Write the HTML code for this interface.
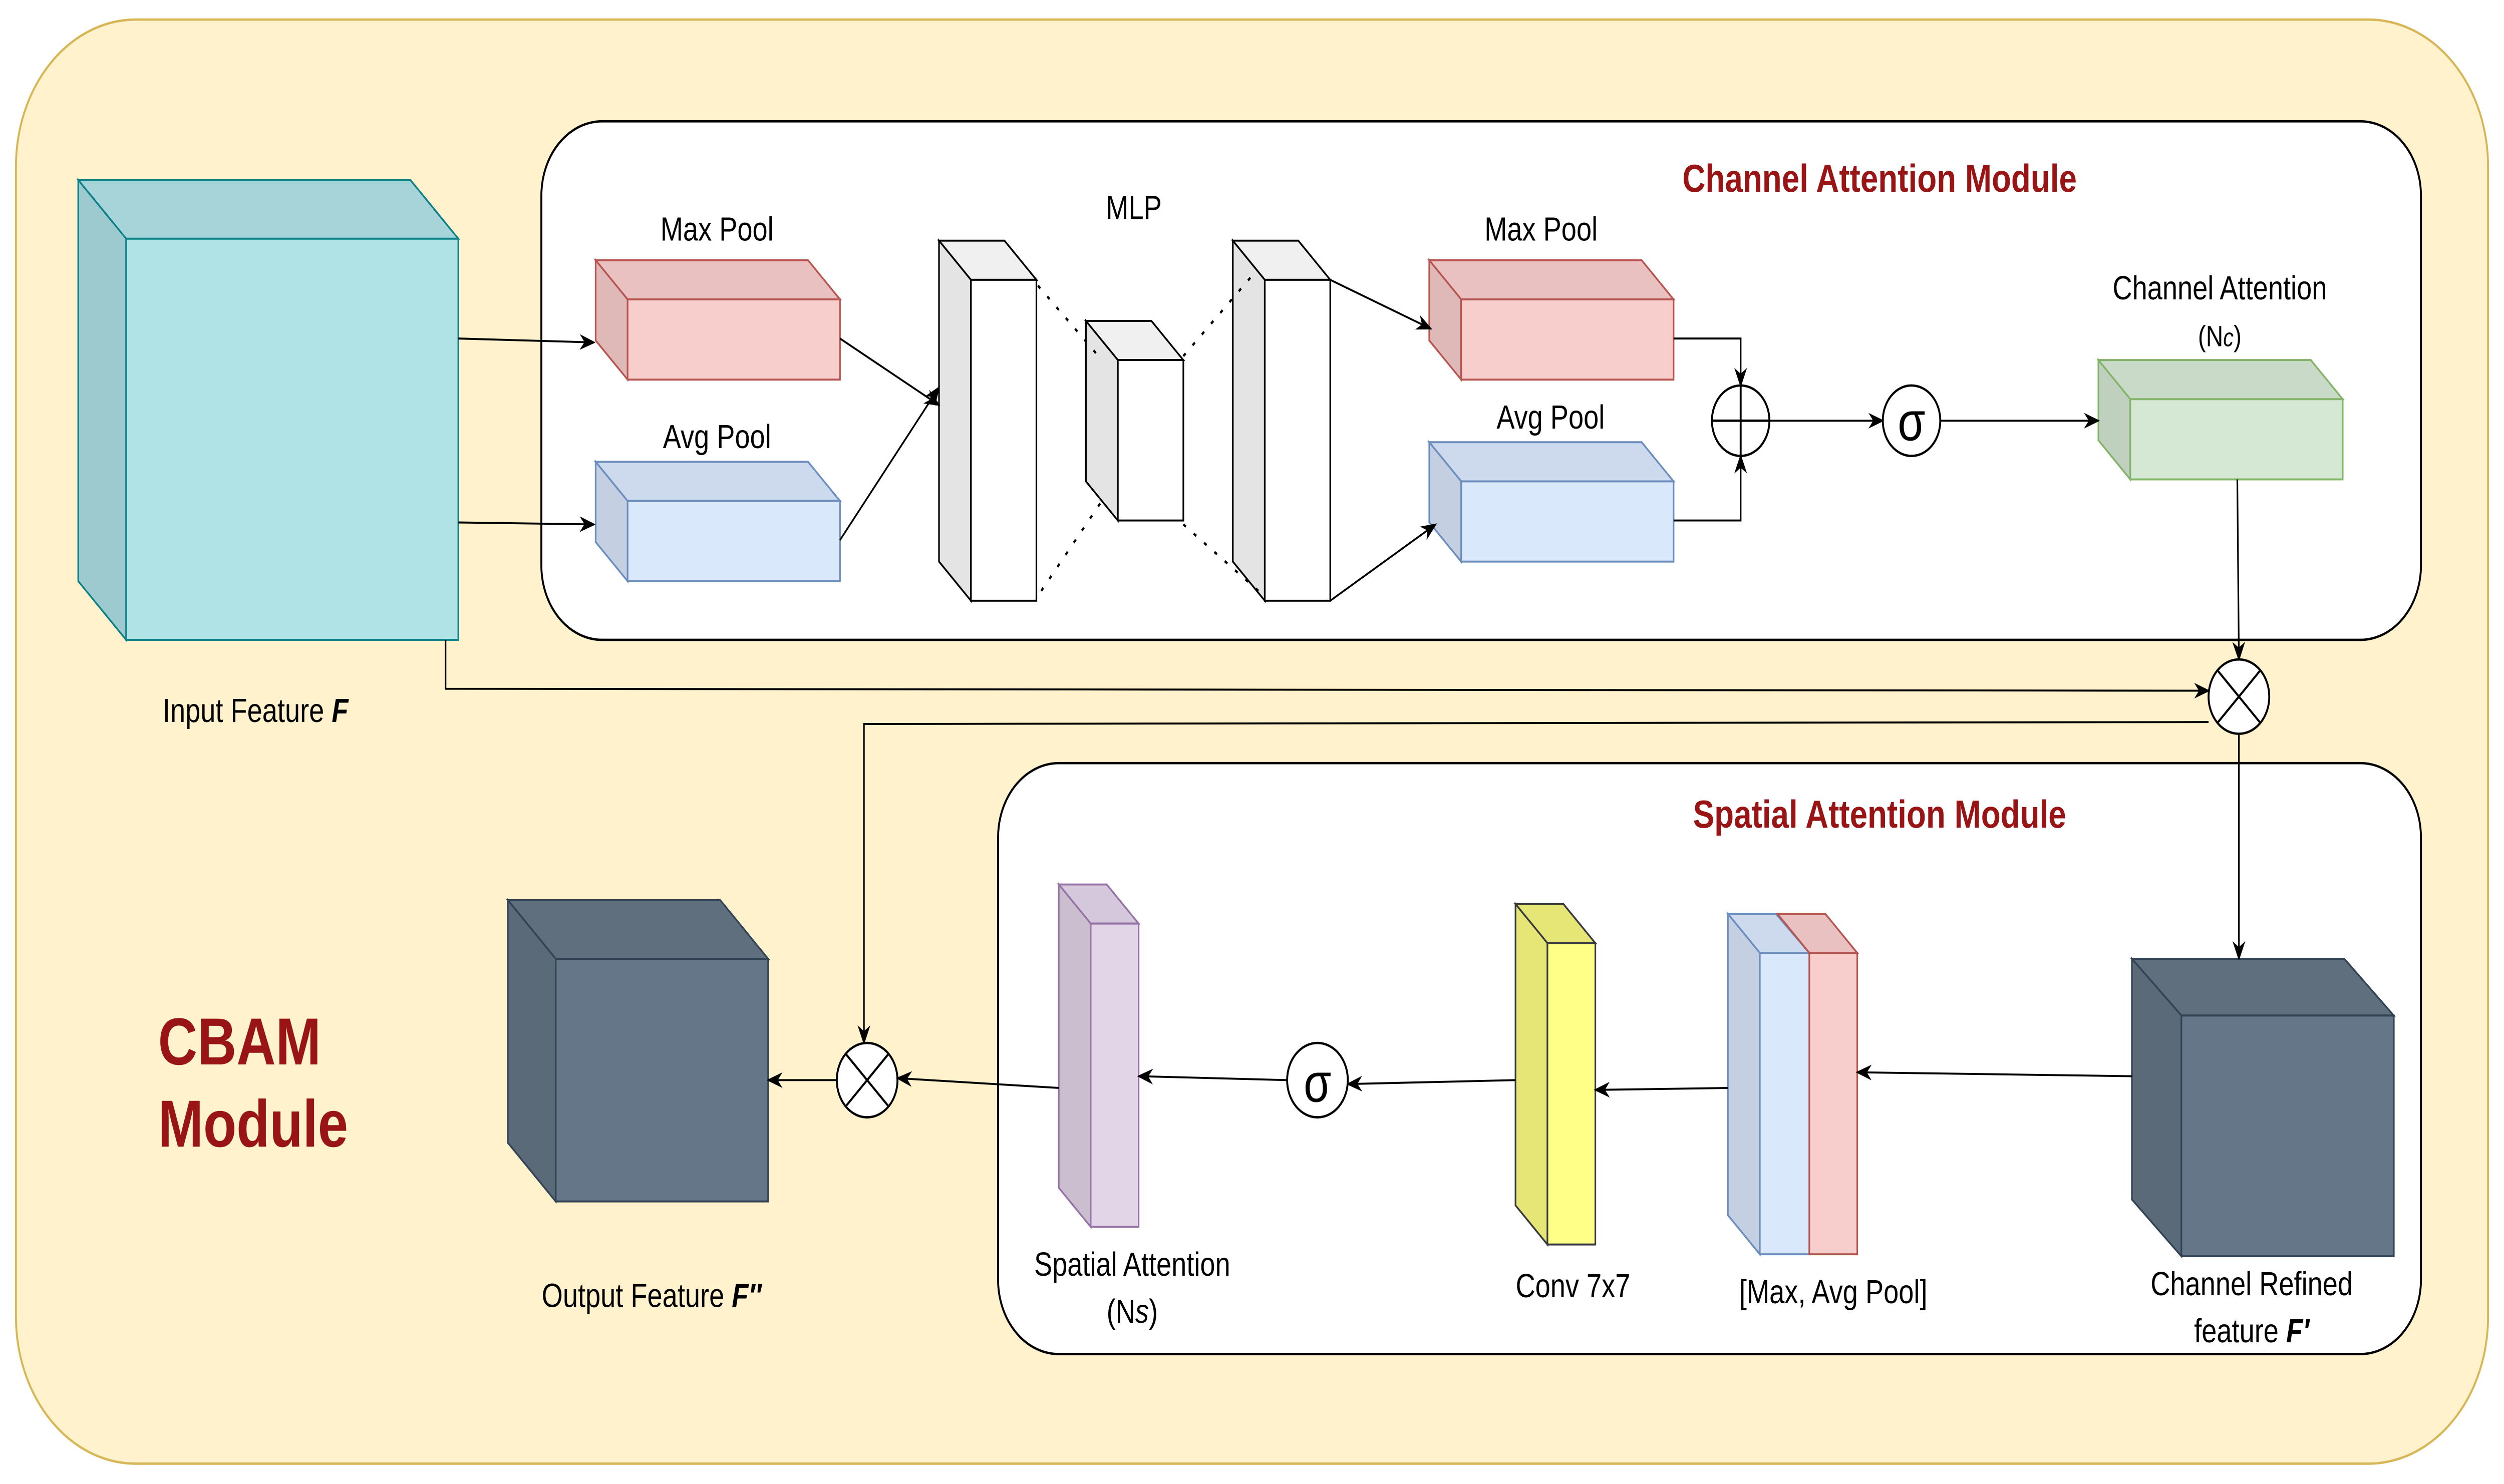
<!DOCTYPE html>
<html><head><meta charset="utf-8"><style>html,body{margin:0;padding:0;background:#fff;width:100%;height:100%;overflow:hidden}svg{display:block;width:100vw;height:100vh;position:fixed;left:0;top:0}text{font-family:"Liberation Sans",sans-serif}</style></head>
<body>
<svg viewBox="0 0 1568 758.4" preserveAspectRatio="none" xmlns="http://www.w3.org/2000/svg">
<defs>
<marker id="a" markerWidth="10" markerHeight="8" refX="9" refY="4" orient="auto" markerUnits="userSpaceOnUse"><path d="M0,0 L10,4 L0,8 L3,4 Z" fill="#000"/></marker>
</defs>
<rect x="10" y="10" width="1548" height="738" rx="75" fill="#fff2cc" stroke="#d6b656" stroke-width="1.2"/>
<rect x="339" y="62" width="1177" height="265" rx="38" fill="#fff" stroke="#000" stroke-width="1.2"/>
<rect x="625" y="390" width="891" height="302" rx="38" fill="#fff" stroke="#000" stroke-width="1.2"/>

<g stroke-width="1">
<g stroke="#0e8088"><path d="M49,92 L257,92 L287,122 L79,122 Z" fill="#a6d4d8"/><path d="M49,92 L79,122 L79,327 L49,297 Z" fill="#9dcacf"/><rect x="79" y="122" width="208" height="205" fill="#b0e3e6"/></g>
<g stroke="#b85450"><path d="M373,133 L506,133 L526,153 L393,153 Z" fill="#e8c1c0"/><path d="M373,133 L393,153 L393,194 L373,174 Z" fill="#deb9b8"/><rect x="393" y="153" width="133" height="41" fill="#f8cecc"/></g>
<g stroke="#6c8ebf"><path d="M373,236 L506,236 L526,256 L393,256 Z" fill="#cddaed"/><path d="M373,236 L393,256 L393,297 L373,277 Z" fill="#c4d0e2"/><rect x="393" y="256" width="133" height="41" fill="#dae8fc"/></g>
<g stroke="#000"><path d="M588,123 L629,123 L649,143 L608,143 Z" fill="#f0f0f0"/><path d="M588,123 L608,143 L608,307 L588,287 Z" fill="#e4e4e4"/><rect x="608" y="143" width="41" height="164" fill="#fff"/>
<path d="M680,164 L721,164 L741,184 L700,184 Z" fill="#f0f0f0"/><path d="M680,164 L700,184 L700,266 L680,246 Z" fill="#e4e4e4"/><rect x="700" y="184" width="41" height="82" fill="#fff"/>
<path d="M772,123 L813,123 L833,143 L792,143 Z" fill="#f0f0f0"/><path d="M772,123 L792,143 L792,307 L772,287 Z" fill="#e4e4e4"/><rect x="792" y="143" width="41" height="164" fill="#fff"/></g>
<g stroke="#000" stroke-dasharray="2,6" stroke-width="1.3"><line x1="650" y1="146" x2="690" y2="184"/><line x1="652" y1="302" x2="690" y2="256"/><line x1="741" y1="182" x2="785" y2="140"/><line x1="741" y1="268" x2="788" y2="302"/></g>
<g stroke="#b85450"><path d="M895,133 L1028,133 L1048,153 L915,153 Z" fill="#e8c1c0"/><path d="M895,133 L915,153 L915,194 L895,174 Z" fill="#deb9b8"/><rect x="915" y="153" width="133" height="41" fill="#f8cecc"/></g>
<g stroke="#6c8ebf"><path d="M895,226 L1028,226 L1048,246 L915,246 Z" fill="#cddaed"/><path d="M895,226 L915,246 L915,287 L895,267 Z" fill="#c4d0e2"/><rect x="915" y="246" width="133" height="41" fill="#dae8fc"/></g>
<g stroke="#82b366"><path d="M1314,184 L1447,184 L1467,204 L1334,204 Z" fill="#c9dbc8"/><path d="M1314,184 L1334,204 L1334,245 L1314,225 Z" fill="#bfd1be"/><rect x="1334" y="204" width="133" height="41" fill="#d5e8d4"/></g>
<g stroke="#314354"><path d="M1335,490 L1468,490 L1499,519 L1366,519 Z" fill="#5f6f7e"/><path d="M1335,490 L1366,519 L1366,642 L1335,613 Z" fill="#5a6a79"/><rect x="1366" y="519" width="133" height="123" fill="#647687"/></g>
<g stroke="#314354"><path d="M318,460 L451,460 L481,490 L348,490 Z" fill="#5f6f7e"/><path d="M318,460 L348,490 L348,614 L318,584 Z" fill="#5a6a79"/><rect x="348" y="490" width="133" height="124" fill="#647687"/></g>
<g stroke="#6c8ebf"><path d="M1082,467 L1112,467 L1133,487 L1102,487 Z" fill="#cddaed"/><path d="M1082,467 L1102,487 L1102,641 L1082,621 Z" fill="#c4d0e2"/><rect x="1102" y="487" width="31" height="154" fill="#dae8fc"/></g>
<g stroke="#b85450"><path d="M1113,467 L1143,467 L1163,487 L1133,487 Z" fill="#e8c1c0"/><rect x="1133" y="487" width="30" height="154" fill="#f8cecc"/></g>
<g stroke="#36393d"><path d="M949,462 L979,462 L999,482 L969,482 Z" fill="#e6e677"/><path d="M949,462 L969,482 L969,636 L949,616 Z" fill="#e6e677"/><rect x="969" y="482" width="30" height="154" fill="#ffff88"/></g>
<g stroke="#9673a6"><path d="M663,452 L693,452 L713,472 L683,472 Z" fill="#d5c8dc"/><path d="M663,452 L683,472 L683,627 L663,607 Z" fill="#cbbfcf"/><rect x="683" y="472" width="30" height="155" fill="#e1d5e7"/></g>
</g>

<g stroke="#000" stroke-width="1.2" fill="#fff">
<circle cx="1090" cy="215" r="18"/><line x1="1072" y1="215" x2="1108" y2="215"/><line x1="1090" y1="197" x2="1090" y2="233"/>
<circle cx="1197" cy="215" r="18"/>
<circle cx="1402" cy="356" r="19"/><line x1="1389" y1="343" x2="1415" y2="369"/><line x1="1415" y1="343" x2="1389" y2="369"/>
<circle cx="825" cy="552" r="19"/>
<circle cx="543" cy="552" r="19"/><line x1="530" y1="539" x2="556" y2="565"/><line x1="556" y1="539" x2="530" y2="565"/>
</g>
<text x="1197" y="225" font-size="28" text-anchor="middle">σ</text>
<text x="825" y="563" font-size="28" text-anchor="middle">σ</text>

<g stroke="#000" stroke-width="1" fill="none" marker-end="url(#a)">
<line x1="287" y1="173" x2="372" y2="175"/>
<line x1="287" y1="267" x2="372" y2="268"/>
<line x1="526" y1="173" x2="588" y2="207"/>
<line x1="526" y1="276" x2="588" y2="198"/>
<line x1="833" y1="143" x2="896" y2="168"/>
<line x1="833" y1="307" x2="899" y2="268"/>
<polyline points="1048,173 1090,173 1090,197"/>
<polyline points="1048,266 1090,266 1090,233"/>
<line x1="1108" y1="215" x2="1179" y2="215"/>
<line x1="1215" y1="215" x2="1314" y2="215"/>
<line x1="1401" y1="245" x2="1402" y2="337"/>
<polyline points="279,327 279,352 1383,353"/>
<line x1="1402" y1="375" x2="1402" y2="490"/>
<polyline points="1383,369 541,370 541,533"/>
<line x1="1335" y1="550" x2="1163" y2="548"/>
<line x1="1082" y1="556" x2="999" y2="557"/>
<line x1="949" y1="552" x2="844" y2="554"/>
<line x1="806" y1="552" x2="713" y2="550"/>
<line x1="663" y1="556" x2="562" y2="551"/>
<line x1="524" y1="552" x2="481" y2="552"/>
</g>

<g font-size="17" text-anchor="middle" fill="#000">
<text x="449" y="123">Max Pool</text>
<text x="449" y="229">Avg Pool</text>
<text x="710" y="112">MLP</text>
<text x="965" y="123">Max Pool</text>
<text x="971" y="219">Avg Pool</text>
<text x="1390" y="153">Channel Attention</text>
<text x="1390" y="177" font-size="15">(N<tspan font-style="italic" font-size="13">c</tspan>)</text>
<text x="160" y="369">Input Feature <tspan font-weight="bold" font-style="italic">F</tspan></text>
<text x="709" y="652">Spatial Attention</text>
<text x="709" y="676">(N<tspan font-style="italic">s</tspan>)</text>
<text x="985" y="663">Conv 7x7</text>
<text x="1148" y="666">[Max, Avg Pool]</text>
<text x="1410" y="662">Channel Refined</text>
<text x="1410" y="686">feature <tspan font-weight="bold" font-style="italic">F′</tspan></text>
<text x="408" y="668">Output Feature <tspan font-weight="bold" font-style="italic">F″</tspan></text>
</g>
<g fill="#991414" font-weight="bold" text-anchor="middle">
<text x="1177" y="98" font-size="20">Channel Attention Module</text>
<text x="1177" y="423" font-size="20">Spatial Attention Module</text>
</g>
<g fill="#991414" font-weight="bold" font-size="34">
<text x="99" y="544">CBAM</text>
<text x="99" y="586">Module</text>
</g>
</svg>
</body></html>
